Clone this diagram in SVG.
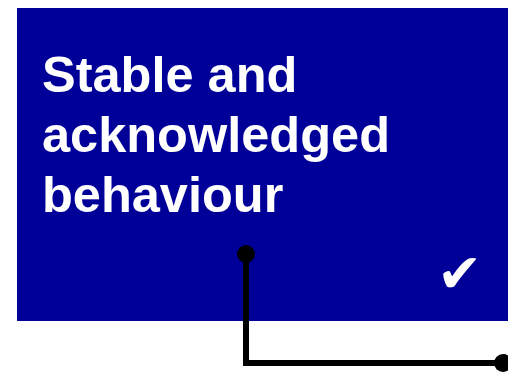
<svg xmlns="http://www.w3.org/2000/svg" width="508" height="382" viewBox="0 0 508 382">
<style>
.title{font-family:"Liberation Sans",Arial,sans-serif;font-weight:bold;font-size:50.5px;fill:#ffffff}
.check{font-family:"DejaVu Sans",sans-serif;font-size:54px;fill:#ffffff}
.wire{fill:none;stroke:#000000;stroke-width:6}
</style>
<rect width="508" height="382" fill="#ffffff"/>
<g id="box">
<rect x="17" y="8" width="491" height="313" fill="#000099"/>
<text class="title" x="42" y="92">Stable and</text>
<text class="title" x="42" y="152">acknowledged</text>
<text class="title" x="42" y="212">behaviour</text>
<text class="check" x="437" y="292">✔</text>
</g>
<g id="connectors">
<polyline class="wire" points="246,254 246,363 503,363"/>
<circle cx="246" cy="254" r="9" fill="#000000"/>
<circle cx="503" cy="363" r="9" fill="#000000"/>
</g>
</svg>
